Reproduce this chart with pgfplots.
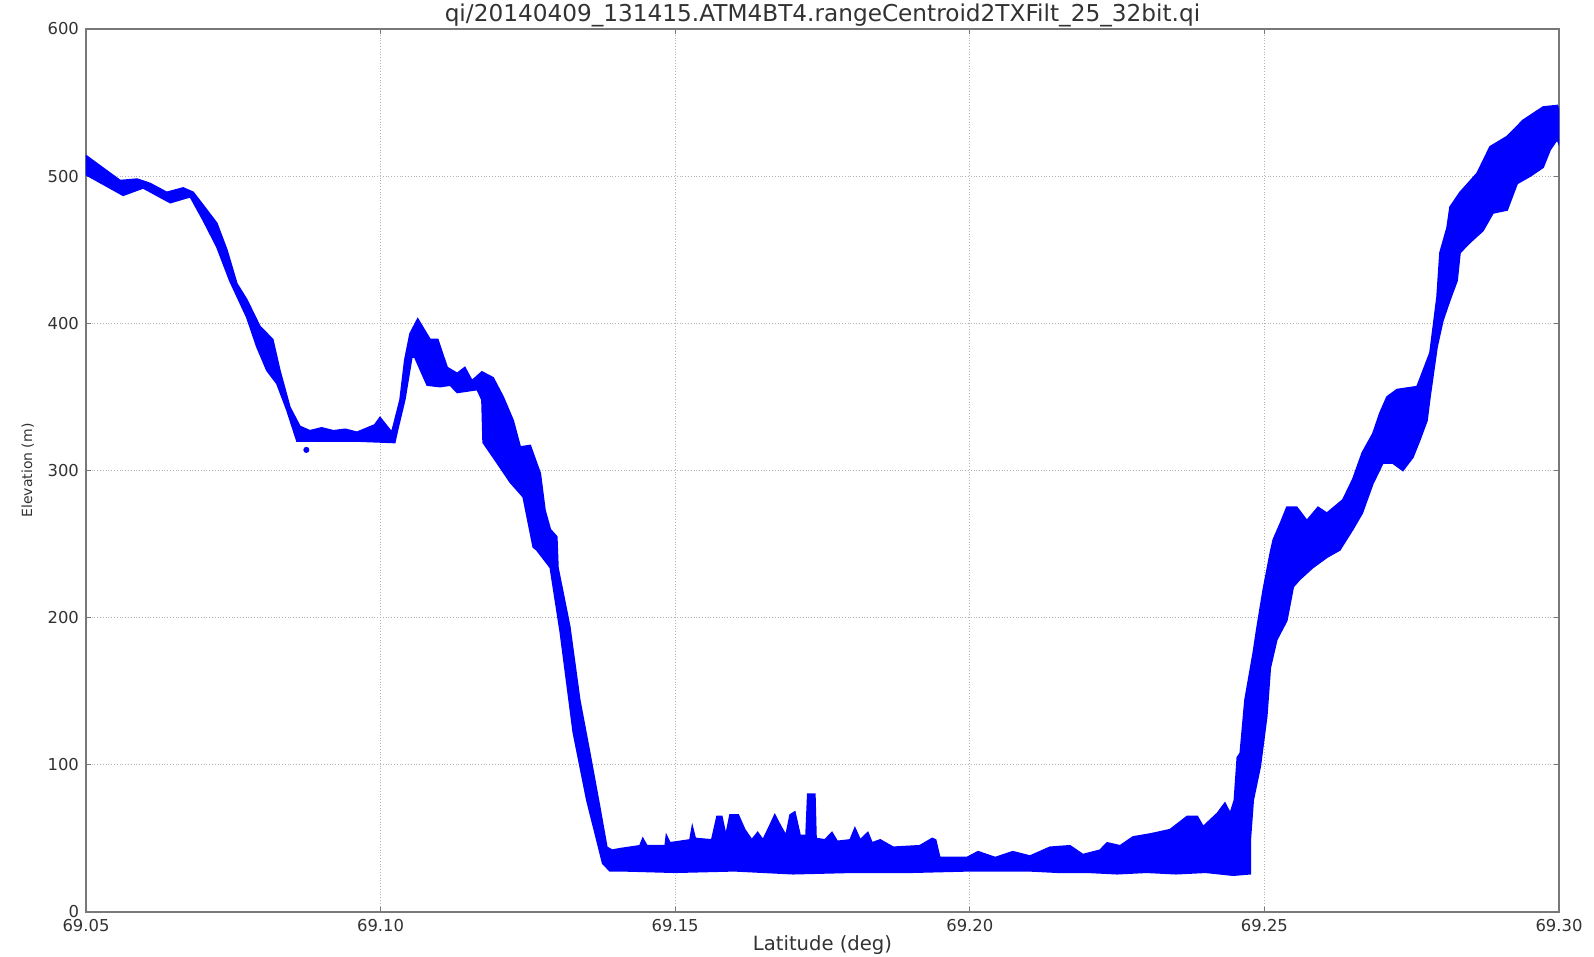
\documentclass[border=0pt]{standalone}
\usepackage{fontspec}
\setmainfont{DejaVu Sans}
\usepackage{pgfplots}
\pgfplotsset{compat=1.18}
\usetikzlibrary{calc}
\definecolor{axgray}{RGB}{120,120,120}
\definecolor{txtgray}{RGB}{50,50,50}
\pgfplotsset{every axis title shift=0pt}
\begin{document}
\begin{tikzpicture}
\begin{axis}[name=ax, scale only axis, width=736.5pt, height=441.5pt,
  xmin=69.05, xmax=69.30, ymin=0, ymax=600,
  xtick={69.05,69.10,69.15,69.20,69.25,69.30},
  ytick={0,100,200,300,400,500,600},
  xticklabel style={/pgf/number format/.cd, fixed, fixed zerofill, precision=2},
  yticklabel style={/pgf/number format/.cd, fixed, precision=0},
  /pgf/number format/assume math mode=true,
  scaled x ticks=false,
  tick label style={font=\fontsize{8.2}{9}\selectfont, color=txtgray},
  grid=major, grid style={densely dotted, gray!60, line width=0.6pt},
  axis line style={axgray, line width=0.9pt},
  tick align=inside, tick pos=both, major tick length=2.5pt, tick style={axgray, line width=0.6pt},
  title={qi/20140409\_131415.ATM4BT4.rangeCentroid2TXFilt\_25\_32bit.qi},
  title style={font=\fontsize{11.6}{13}\selectfont, color=txtgray, at={(0.5,1)}, anchor=south, inner sep=0pt, yshift=1pt},
  xlabel={Latitude (deg)}, ylabel={Elevation (m)},
  xlabel style={font=\fontsize{9.8}{11}\selectfont, color=txtgray, at={(axis description cs:0.5,0)}, anchor=base, inner sep=0pt, yshift=-19.5pt},
  ylabel style={font=\fontsize{7}{8}\selectfont, color=txtgray},
]
\addplot[fill=blue, draw=blue, line width=0.8pt] coordinates {
(69.0500,514) (69.0558,497) (69.0587,498) (69.0609,495) (69.0637,489) (69.0665,492) (69.0682,489) (69.0705,477) (69.0722,468) (69.0739,450) (69.0756,427) (69.0773,416) (69.0795,398) (69.0817,389) (69.0829,368) (69.0846,343) (69.0863,330) (69.0880,327) (69.0900,329) (69.0920,327) (69.0940,328) (69.0960,326) (69.0990,331) (69.0999,336) (69.1009,331) (69.1019,326) (69.1033,348) (69.1041,375) (69.1050,393) (69.1063,403) (69.1084,389) (69.1097,389) (69.1113,370) (69.1130,366) (69.1143,370) (69.1155,361) (69.1172,367) (69.1191,363) (69.1208,350) (69.1225,334) (69.1237,316) (69.1254,317) (69.1271,298) (69.1279,273) (69.1288,260) (69.1299,255) (69.1301,234) (69.1321,194) (69.1338,144) (69.1355,108) (69.1372,71) (69.1384,44) (69.1393,42)
(69.1406,43) (69.1440,45) (69.1445,50) (69.1452,45) (69.1483,45) (69.1485,52) (69.1491,47) (69.1525,49) (69.1529,58) (69.1534,50) (69.1562,49) (69.1571,65) (69.1579,65) (69.1586,52) (69.1593,66) (69.1607,66) (69.1618,56) (69.1630,49) (69.1640,54) (69.1649,49) (69.1661,59) (69.1669,66) (69.1678,59) (69.1688,52) (69.1695,66) (69.1703,68) (69.1712,52) (69.1722,52) (69.1725,80) (69.1737,80) (69.1739,50) (69.1754,49) (69.1766,54) (69.1775,48) (69.1797,49) (69.1805,57) (69.1814,49) (69.1827,54) (69.1834,47) (69.1848,49) (69.1870,44) (69.1915,45) (69.1932,49) (69.1936,50) (69.1942,49) (69.1949,37) (69.1995,37) (69.2014,41) (69.2043,37) (69.2073,41) (69.2102,38) (69.2136,44) (69.2170,45) (69.2192,39) (69.2221,42) (69.2233,47) (69.2255,45) (69.2277,51) (69.2306,53) (69.2318,54) (69.2340,56) (69.2369,65) (69.2386,65) (69.2396,58) (69.2420,67) (69.2433,74) (69.2442,67) (69.2449,76)
(69.2454,105) (69.2459,108) (69.2467,144) (69.2481,176) (69.2487,192) (69.2498,219) (69.2510,244) (69.2515,253) (69.2527,264) (69.2538,275) (69.2555,275) (69.2572,266) (69.2591,275) (69.2606,271) (69.2633,280) (69.2650,294) (69.2666,312) (69.2684,325) (69.2696,339) (69.2708,350) (69.2725,355) (69.2759,357) (69.2781,380) (69.2793,418) (69.2798,448) (69.2810,465) (69.2815,479) (69.2832,489) (69.2861,502) (69.2883,520) (69.2912,527) (69.2939,538) (69.2973,547) (69.2997,548) (69.3000,545)
(69.3000,522) (69.2997,525) (69.2985,518) (69.2973,506) (69.2951,500) (69.2929,495) (69.2912,477) (69.2888,475) (69.2871,463) (69.2849,455) (69.2832,448) (69.2827,429) (69.2815,416) (69.2803,402) (69.2793,384) (69.2781,350) (69.2776,334) (69.2764,321) (69.2752,309) (69.2735,300) (69.2718,305) (69.2701,305) (69.2684,291) (69.2666,271) (69.2650,260) (69.2628,246) (69.2606,241) (69.2582,234) (69.2560,226) (69.2549,221) (69.2538,198) (69.2521,185) (69.2510,166) (69.2504,133) (69.2493,99) (69.2481,76) (69.2476,49) (69.2476,26) (69.2447,25) (69.2400,27) (69.2350,26) (69.2300,27) (69.2250,26) (69.2200,27) (69.2150,27) (69.2100,28) (69.2000,28) (69.1900,27) (69.1800,27) (69.1700,26) (69.1600,28) (69.1500,27) (69.1410,28) (69.1389,28) (69.1377,33) (69.1350,76) (69.1327,122) (69.1305,190) (69.1288,234) (69.1265,246) (69.1259,248) (69.1242,282) (69.1220,292) (69.1198,305) (69.1174,319) (69.1172,348) (69.1164,355) (69.1130,353) (69.1118,358) (69.1101,357) (69.1079,358) (69.1058,377) (69.1053,377) (69.1041,348) (69.1029,328) (69.1024,319) (69.0960,320) (69.0900,320) (69.0858,320) (69.0841,341) (69.0824,359) (69.0807,368) (69.0790,384) (69.0773,404) (69.0744,429) (69.0722,452) (69.0699,470) (69.0677,486) (69.0643,482) (69.0597,492) (69.0563,487) (69.0500,501)
} -- cycle;
\addplot[only marks, mark=*, mark size=1.3pt, blue] coordinates {(69.0874,314)};
\end{axis}
\pgfresetboundingbox
\path ($(ax.south west)+(-43pt,-22.5pt)$) rectangle ($(ax.north east)+(17.5pt,14.5pt)$);
\end{tikzpicture}
\end{document}
